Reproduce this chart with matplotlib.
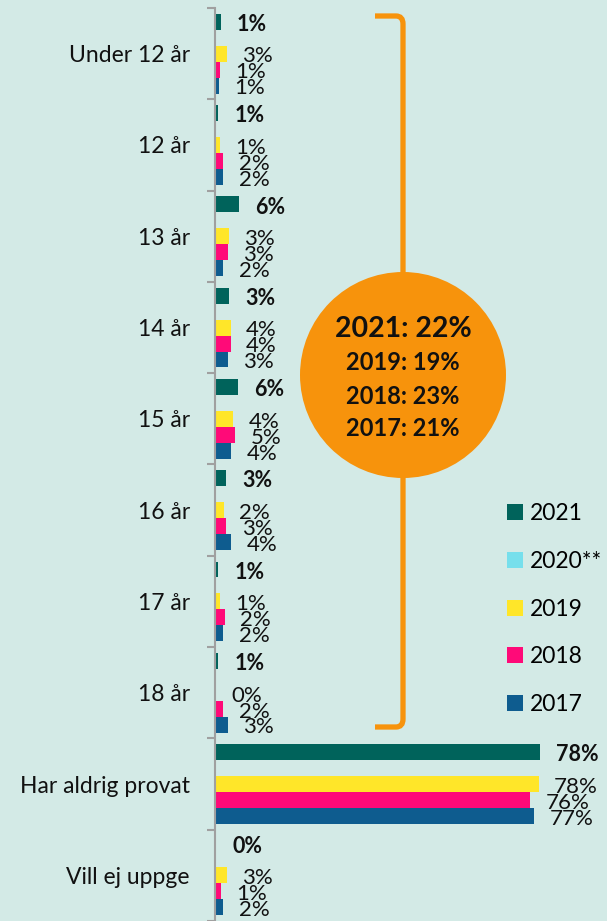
import numpy as np
import matplotlib.pyplot as plt
from matplotlib.patches import Circle, Patch, PathPatch
from matplotlib.path import Path

plt.rcParams['font.family'] = ['Lato', 'DejaVu Sans']

categories = ['Under 12 år', '12 år', '13 år', '14 år', '15 år', '16 år',
              '17 år', '18 år', 'Har aldrig provat', 'Vill ej uppge']
v2021 = [1.4, 0.8, 5.8, 3.4, 5.6, 2.7, 0.8, 0.8, 78.0, 0.3]
v2019 = [2.9, 1.1, 3.4, 3.8, 4.4, 2.2, 1.2, 0.2, 77.6, 2.8]
v2018 = [1.2, 2.0, 3.0, 3.8, 4.9, 2.7, 2.4, 2.0, 75.6, 1.4]
v2017 = [0.9, 2.0, 2.0, 3.0, 3.9, 3.9, 2.0, 3.0, 76.6, 2.0]
years = ['2021', '2020**', '2019', '2018', '2017']
colors = ['#00635b', '#76dfec', '#ffe629', '#ff0a78', '#0e5c8f']
circle_lines = ['2021: 22%', '2019: 19%', '2018: 23%', '2017: 21%']

bg = '#d3eae6'
orange = '#f7930c'
W, H = 607, 921

fig = plt.figure(figsize=(W / 100, H / 100), dpi=100, facecolor=bg)
ax = fig.add_axes([215 / W, 0, (W - 215) / W, 913 / H])
ax.patch.set_visible(False)

y = np.arange(len(categories))
h = 0.175
series = {'2021': v2021, '2019': v2019, '2018': v2018, '2017': v2017}
for k, yr in enumerate(years):
    if yr not in series:
        continue
    vals = series[yr]
    off = (k - 2) * h
    ax.barh(y + off, vals, height=h, color=colors[k], linewidth=0)
    for yi, v in zip(y, vals):
        lab = '%d%%' % int(np.floor(v + 0.5))
        bold = yr == '2021'
        ax.annotate(lab, xy=(v, yi + off), xytext=(11.5 if bold else 11, -2),
                    textcoords='offset points', va='center', ha='left',
                    fontsize=15.5 if bold else 16,
                    fontweight='bold' if bold else 'normal', color='#111111')

ax.set_xlim(0, (W - 215) / 4.17)
ax.set_ylim(len(categories) - 0.5, -0.5)
ax.set_xticks([])
ax.set_yticks(y)
ax.set_yticklabels(categories, fontsize=16.5, color='#111111')
ax.tick_params(axis='y', which='major', length=0, pad=18)
ax.set_yticks(np.arange(len(categories) + 1) - 0.5, minor=True)
ax.tick_params(axis='y', which='minor', length=5.5, width=1.5, color='#a0a0a0')
for s in ['top', 'right', 'bottom']:
    ax.spines[s].set_visible(False)
ax.spines['left'].set_color('#a0a0a0')
ax.spines['left'].set_linewidth(1.5)

# bracket and circle (pixel positions converted to inches)
def px(xp, yp):
    return (xp / 100, (H - yp) / 100)

verts = [px(375, 16), px(396, 16), px(403, 16), px(403, 24),
         px(403, 719), px(403, 727), px(396, 727), px(375, 727)]
codes = [Path.MOVETO, Path.LINETO, Path.CURVE3, Path.CURVE3,
         Path.LINETO, Path.CURVE3, Path.CURVE3, Path.LINETO]
fig.add_artist(PathPatch(Path(verts, codes), fill=False, edgecolor=orange,
                         linewidth=3.8, transform=fig.dpi_scale_trans))
fig.add_artist(Circle(px(403, 375), 1.03, facecolor=orange, edgecolor='none',
                      transform=fig.dpi_scale_trans))
for line, yp, fs in zip(circle_lines, [329, 363, 397, 428], [20.5, 17, 17, 17]):
    fig.text(403 / W, 1 - yp / H, line, ha='center', va='center',
             fontsize=fs, fontweight='bold', color='#111111')

handles = [Patch(facecolor=c, edgecolor='none') for c in colors]
fig.legend(handles, years, loc='upper left', bbox_to_anchor=(507 / W, 1 - 503 / H),
           frameon=False, fontsize=16.5, handlelength=0.7, handleheight=0.7,
           handletextpad=0.3, labelspacing=1.17, borderaxespad=0, borderpad=0)

fig.savefig('out.png', dpi=100, facecolor=bg)
